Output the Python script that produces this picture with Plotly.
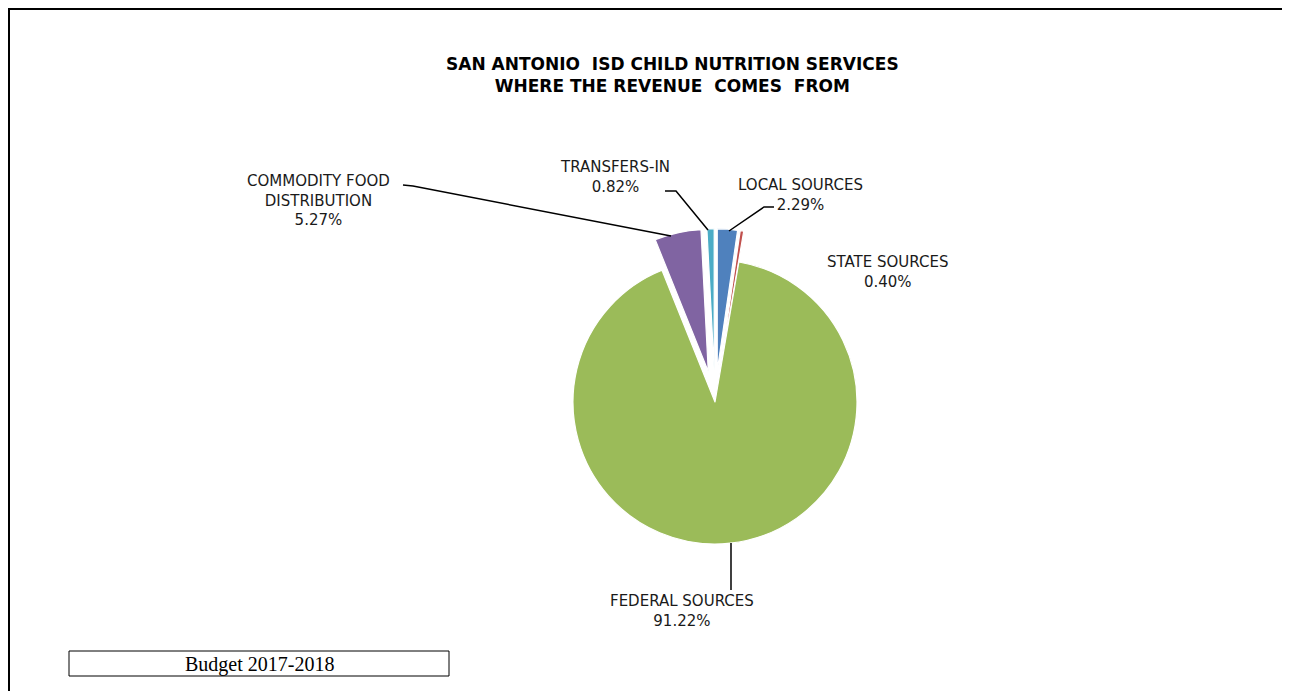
import plotly.graph_objects as go

# page body has an 8px margin; figure covers the window from (8, 8)
OFF = 8
W, H = 1290 - OFF, 691 - OFF

categories = ["LOCAL SOURCES", "STATE SOURCES", "FEDERAL SOURCES",
              "COMMODITY FOOD DISTRIBUTION", "TRANSFERS-IN"]
label_lines = ["LOCAL SOURCES", "STATE SOURCES", "FEDERAL SOURCES",
               "COMMODITY FOOD<br>DISTRIBUTION", "TRANSFERS-IN"]
percents = [2.29, 0.40, 91.22, 5.27, 0.82]
colors = ["#4F81BD", "#C0504D", "#9BBB59", "#8064A2", "#4BACC6"]
pulls = [0.22, 0.22, 0.0, 0.22, 0.22]

title_lines = ["SAN ANTONIO  ISD CHILD NUTRITION SERVICES", "WHERE THE REVENUE  COMES  FROM"]
footer_text = "Budget 2017-2018"


def px(x):
    return (x - OFF) / W


def py(y):
    return 1 - (y - OFF) / H


# pie geometry (window pixels)
cx, cy, r = 715, 402, 142
R = r * (1 + max(pulls))

fig = go.Figure()
fig.add_trace(go.Pie(
    labels=categories,
    values=percents,
    sort=False,
    direction="clockwise",
    rotation=0,
    pull=pulls,
    marker=dict(colors=colors, line=dict(color="white", width=1.2)),
    textinfo="none",
    hoverinfo="label+percent",
    showlegend=False,
    domain=dict(x=[px(cx - R), px(cx + R)], y=[py(cy + R), py(cy - R)]),
))

label_font = dict(family="DejaVu Sans, Open Sans, sans-serif", size=15, color="#1a1a1a")

# label positions (window pixels): centre x, centre y
label_pos = {
    "LOCAL SOURCES": (800, 195),
    "STATE SOURCES": (887, 272),
    "FEDERAL SOURCES": (682, 611),
    "COMMODITY FOOD DISTRIBUTION": (318, 200),
    "TRANSFERS-IN": (615, 177),
}

for name, lines, pct in zip(categories, label_lines, percents):
    x, y = label_pos[name]
    fig.add_annotation(
        x=px(x), y=py(y), xref="paper", yref="paper",
        text=f"{lines}<br>{pct:.2f}%", showarrow=False,
        font=label_font, align="center", xanchor="center", yanchor="middle",
    )

# leader lines (window pixel polylines)
leaders = [
    [(403, 185), (413, 186), (671, 236)],
    [(665, 191), (676, 191), (708, 230)],
    [(774, 207), (764, 207), (729, 231)],
    [(731, 543), (731, 590)],
]
for pts in leaders:
    path = "M " + " L ".join(f"{px(a):.5f} {py(b):.5f}" for a, b in pts)
    fig.add_shape(type="path", path=path, xref="paper", yref="paper",
                  line=dict(color="black", width=1.5))

# title
fig.add_annotation(
    x=px(672), y=py(75), xref="paper", yref="paper",
    text="<b>" + "<br>".join(title_lines) + "</b>", showarrow=False,
    font=dict(family="DejaVu Sans, Open Sans, sans-serif", size=17, color="black"),
    align="center", xanchor="center", yanchor="middle",
)

# footer box
fig.add_shape(type="rect", xref="paper", yref="paper",
              x0=px(69), x1=px(449), y0=py(676), y1=py(651),
              line=dict(color="black", width=1), fillcolor="white")
fig.add_annotation(
    x=px(259), y=py(664), xref="paper", yref="paper", text=footer_text,
    showarrow=False, font=dict(family="Liberation Serif, Times New Roman, serif", size=20, color="black"),
    xanchor="center", yanchor="middle",
)

# outer border
fig.add_shape(type="rect", xref="paper", yref="paper",
              x0=px(9), x1=px(1285), y0=py(700), y1=py(9),
              line=dict(color="black", width=2), fillcolor="rgba(0,0,0,0)")

fig.update_layout(
    width=W, height=H,
    margin=dict(l=0, r=0, t=0, b=0),
    paper_bgcolor="white", plot_bgcolor="white",
)

fig.write_html("out.html")
